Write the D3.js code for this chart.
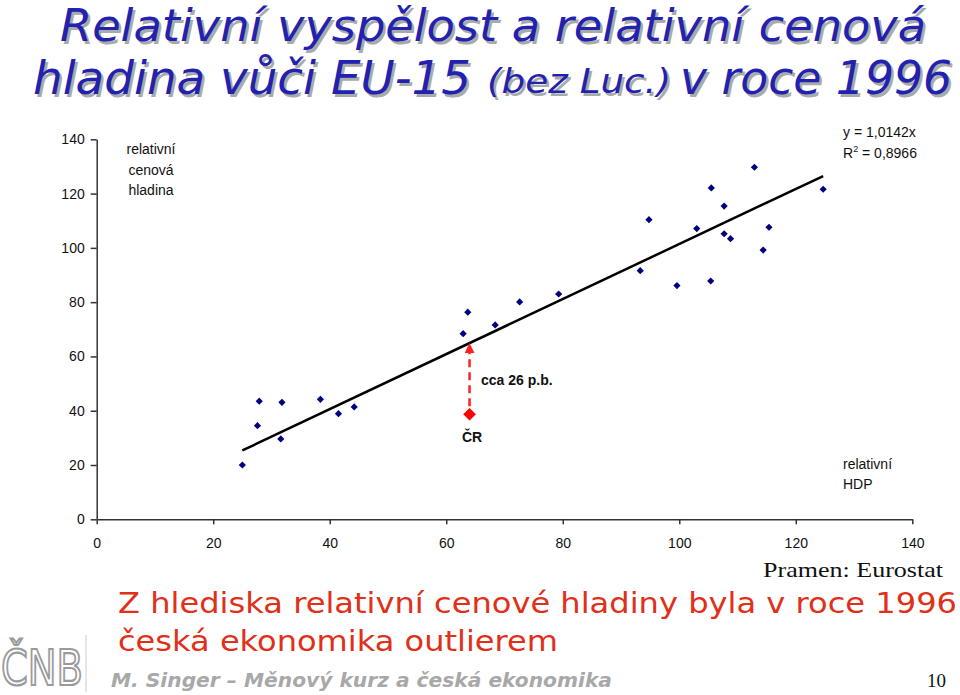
<!DOCTYPE html>
<html><head><meta charset="utf-8">
<script src="https://cdn.jsdelivr.net/npm/d3@7"></script>
<style>body{margin:0;background:#fff}svg{display:block}</style>
</head><body>
<svg id="c" width="960" height="695"></svg>
<script>
// ---- data ----
const gdp   = [25.0,27.6,27.9,31.8,31.6,38.4,41.5,44.2,62.9,63.7,68.4,72.6,79.3,93.3,94.8,99.6,103.0,105.4,105.5,107.7,107.7,108.8,112.9,114.4,115.4,124.7];
const price = [20.0,34.5,43.5,43.1,29.6,44.2,38.9,41.4,68.4,76.3,71.6,80.1,83.0,91.6,110.4,86.1,107.1,87.8,122.1,115.4,105.2,103.4,129.7,99.2,107.6,121.6];
const czGdp = 64.0, czPrice = 38.7;
const slope = 1.0142;
const rSquared = "0,8966";
const xTicks = [0,20,40,60,80,100,120,140];
const yTicks = [0,20,40,60,80,100,120,140];

const svg = d3.select("#c");
const x = d3.scaleLinear().domain([0,140]).range([96.7,912.3]);
const y = d3.scaleLinear().domain([0,140]).range([519.3,139.3]);
const AF = "'Liberation Sans', Arial, sans-serif";

// ---- title ----
const titleBlue = "#2222b0", shadow = "#aaaaaa";
function shadowText(str, xx, yy, size, len) {
  [[2.5,2.5,shadow],[0,0,titleBlue]].forEach(([dx,dy,col])=>{
    svg.append("text").attr("x",xx+dx).attr("y",yy+dy).text(str)
      .attr("font-family","'DejaVu Sans', Verdana, sans-serif").attr("font-style","italic")
      .attr("font-size",size).attr("fill",col)
      .attr("textLength",len).attr("lengthAdjust","spacingAndGlyphs");
  });
}
shadowText("Relativní vyspělost a relativní cenová", 60, 41, 45, 866);
shadowText("hladina vůči EU-15", 33, 94, 46, 438);
shadowText("(bez Luc.)", 487, 93, 33, 184);
shadowText("v roce 1996", 680, 94, 46, 272);

// ---- axes ----
const gx = svg.append("g").attr("transform",`translate(0,${y(0)})`)
  .call(d3.axisBottom(x).tickValues(xTicks).tickFormat(d3.format("d")).tickSizeInner(5).tickSizeOuter(0).tickPadding(14));
const gy = svg.append("g").attr("transform",`translate(${x(0)},0)`)
  .call(d3.axisLeft(y).tickValues(yTicks).tickFormat(d3.format("d")).tickSizeInner(6).tickSizeOuter(0).tickPadding(6));
[gx,gy].forEach(g=>{
  g.selectAll("path,line").attr("stroke","#333").attr("stroke-width",1.5);
  g.selectAll("text").attr("font-family",AF).attr("font-size",14).attr("fill","#111");
});

// ---- trend line ----
const xMin = d3.min(gdp), xMax = d3.max(gdp);
svg.append("line")
  .attr("x1",x(xMin)).attr("y1",y(slope*xMin))
  .attr("x2",x(xMax)).attr("y2",y(slope*xMax))
  .attr("stroke","#000").attr("stroke-width",2.5);

// ---- points ----
const diamond = d3.symbol().type(d3.symbolSquare).size(26);
svg.append("g").selectAll("path").data(gdp.map((g,i)=>[g,price[i]])).join("path")
  .attr("d",diamond)
  .attr("transform",d=>`translate(${x(d[0])},${y(d[1])}) rotate(45)`)
  .attr("fill","#000080");

// ---- CR arrow ----
const defs = svg.append("defs");
defs.append("marker").attr("id","ah").attr("viewBox","0 0 10 10").attr("refX",5).attr("refY",5)
  .attr("markerWidth",4).attr("markerHeight",4).attr("orient","auto")
  .append("path").attr("d","M0,0 L10,5 L0,10 z").attr("fill","#ff2020");
svg.append("line")
  .attr("x1",x(czGdp)).attr("y1",y(czPrice)-8)
  .attr("x2",x(czGdp)).attr("y2",y(slope*czGdp)+5)
  .attr("stroke","#ff2020").attr("stroke-width",2.5).attr("stroke-dasharray","8,5")
  .attr("marker-end","url(#ah)");
svg.append("path").attr("d",d3.symbol().type(d3.symbolSquare).size(80)())
  .attr("transform",`translate(${x(czGdp)},${y(czPrice)}) rotate(45)`)
  .attr("fill","#ff0000");

// ---- chart labels ----
function lbl(str, xx, yy, opts={}) {
  return svg.append("text").attr("x",xx).attr("y",yy).text(str)
    .attr("font-family",AF).attr("font-size",opts.size||14)
    .attr("font-weight",opts.bold?"bold":"normal")
    .attr("text-anchor",opts.anchor||"start").attr("fill",opts.fill||"#111");
}
lbl("cca 26 p.b.", 481, 385, {bold:true});
lbl("ČR", 462, 442, {bold:true});
lbl("relativní", 151, 154, {anchor:"middle"});
lbl("cenová", 151, 175, {anchor:"middle"});
lbl("hladina", 151, 195, {anchor:"middle"});
lbl("y = 1,0142x", 843, 137);
const r2 = lbl("R", 843, 158);
r2.append("tspan").text("2").attr("font-size",9).attr("dy",-6);
r2.append("tspan").text(" = " + rSquared).attr("dy",6);
lbl("relativní", 843, 469);
lbl("HDP", 843, 489);

// ---- source & notes ----
svg.append("text").attr("x",763).attr("y",577).text("Pramen: Eurostat")
  .attr("font-family","'Liberation Serif', 'Times New Roman', serif").attr("font-size",21)
  .attr("fill","#111").attr("textLength",180).attr("lengthAdjust","spacingAndGlyphs");
const red = "#e0301a";
[["Z hlediska relativní cenové hladiny byla v roce 1996",613,839],["česká ekonomika outlierem",651,440]].forEach(([s,yy,len])=>{
  svg.append("text").attr("x",118).attr("y",yy).text(s)
    .attr("font-family","'DejaVu Sans', Verdana, sans-serif").attr("font-size",29).attr("fill",red)
    .attr("textLength",len).attr("lengthAdjust","spacingAndGlyphs");
});
svg.append("text").attr("x",111).attr("y",687).text("M. Singer – Měnový kurz a česká ekonomika")
  .attr("font-family","'DejaVu Sans', Verdana, sans-serif").attr("font-size",20)
  .attr("font-weight","bold").attr("font-style","italic").attr("fill","#a8a8a8")
  .attr("textLength",501).attr("lengthAdjust","spacingAndGlyphs");
svg.append("text").attr("x",927).attr("y",687).text("10")
  .attr("font-family","'Liberation Serif', 'Times New Roman', serif").attr("font-size",19)
  .attr("fill","#111");

// ---- logo ----
svg.append("text").attr("x",1).attr("y",685).text("ČNB")
  .attr("font-family","'DejaVu Sans', sans-serif").attr("font-size",50)
  .attr("fill","#fff").attr("stroke","#9a9a9a").attr("stroke-width",2.2)
  .attr("textLength",82).attr("lengthAdjust","spacingAndGlyphs");
svg.append("line").attr("x1",86).attr("x2",86).attr("y1",635).attr("y2",692)
  .attr("stroke","#ccc").attr("stroke-width",1);
</script>
</body></html>
